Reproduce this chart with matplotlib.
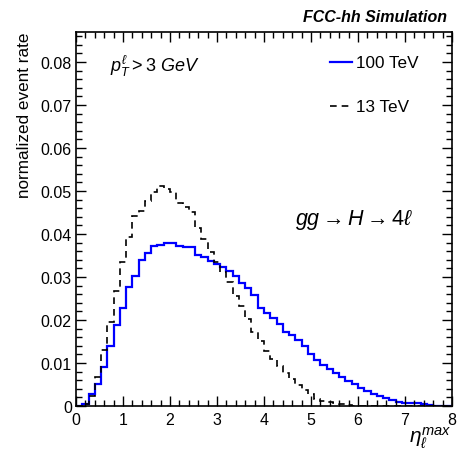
import numpy as np
import matplotlib
matplotlib.use("Agg")
import matplotlib.pyplot as plt
from matplotlib.ticker import MultipleLocator

plt.rcParams['font.family'] = ['Liberation Sans', 'DejaVu Sans']
plt.rcParams['mathtext.fontset'] = 'custom'
plt.rcParams['mathtext.rm'] = 'Liberation Sans'
plt.rcParams['mathtext.it'] = 'Liberation Sans:italic'
plt.rcParams['mathtext.bf'] = 'Liberation Sans:bold'

# ---- data (60 bins from 0 to 8) ----
eta_min, eta_max, n_bins = 0.0, 8.0, 60
rate_100TeV = [
    0.0, 0.0005, 0.0028, 0.0051, 0.0090, 0.0139, 0.0188, 0.0228, 0.0277, 0.0303,
    0.0340, 0.0356, 0.0373, 0.0374, 0.0379, 0.0379, 0.0373, 0.0370, 0.0370, 0.0351,
    0.0346, 0.0338, 0.0330, 0.0323, 0.0315, 0.0303, 0.0286, 0.0275, 0.0258, 0.0228,
    0.0216, 0.0204, 0.0190, 0.0172, 0.0165, 0.0154, 0.0140, 0.0120, 0.0107, 0.0095,
    0.0087, 0.0077, 0.0068, 0.0059, 0.0051, 0.0042, 0.0035, 0.0028, 0.0023, 0.0019,
    0.0013, 0.0010, 0.0008, 0.0007, 0.0006, 0.0004, 0.0003, 0.0, 0.0, 0.0,
]
rate_13TeV = [
    0.0, 0.0005, 0.0024, 0.0067, 0.0130, 0.0196, 0.0267, 0.0335, 0.0393, 0.0443,
    0.0454, 0.0478, 0.0498, 0.0511, 0.0505, 0.0497, 0.0472, 0.0462, 0.0452, 0.0414,
    0.0388, 0.0359, 0.0335, 0.0312, 0.0288, 0.0257, 0.0233, 0.0202, 0.0172, 0.0152,
    0.0129, 0.0110, 0.0092, 0.0076, 0.0062, 0.0048, 0.0038, 0.0028, 0.0016, 0.0012,
    0.0010, 0.0007, 0.0005, 0.0003, 0.0001, 0.0, 0.0, 0.0, 0.0, 0.0,
    0.0, 0.0, 0.0, 0.0, 0.0, 0.0, 0.0, 0.0, 0.0, 0.0,
]
legend_labels = ["100 TeV", "13 TeV"]
x_ticks = [0, 1, 2, 3, 4, 5, 6, 7, 8]
y_ticks = [0, 0.01, 0.02, 0.03, 0.04, 0.05, 0.06, 0.07, 0.08]
y_tick_labels = ["0", "0.01", "0.02", "0.03", "0.04", "0.05", "0.06", "0.07", "0.08"]

edges = np.linspace(eta_min, eta_max, n_bins + 1)

fig = plt.figure(figsize=(4.57, 4.52), dpi=100)
ax = fig.add_axes([76/457, 1 - 407/452, (452-76)/457, (407-33)/452])

ax.stairs(rate_100TeV, edges, baseline=None, color='#0000ff', lw=1.6)
ax.stairs(rate_13TeV, edges, baseline=None, color='black', lw=1.2,
          linestyle=(0, (4, 3)))

ax.set_xlim(0, 8)
ax.set_ylim(0, 0.087)
ax.set_xticks(x_ticks)
ax.set_xticklabels([str(t) for t in x_ticks])
ax.set_yticks(y_ticks)
ax.set_yticklabels(y_tick_labels)
ax.xaxis.set_minor_locator(MultipleLocator(0.2))
ax.yaxis.set_minor_locator(MultipleLocator(0.002))
ax.tick_params(which='both', direction='in', top=True, right=True, width=1.0,
               labelsize=11.5, colors='black')
ax.tick_params(which='major', length=7.5)
ax.tick_params(which='minor', length=4)
ax.tick_params(axis='x', pad=4)
ax.tick_params(axis='y', pad=3)
for s in ax.spines.values():
    s.set_linewidth(1.2)

ax.set_ylabel("normalized event rate", fontsize=12.3, loc='top', labelpad=6)
fig.text(452/457, 1 - 438/452, r"$\eta_{\ell}^{max}$", fontsize=15, ha='right', va='center')

fig.text(447/457, 1 - 17/452, "FCC-hh Simulation", fontsize=11.5,
         fontweight='bold', fontstyle='italic', ha='right', va='center')

# legend (manual, ROOT-style)
ax.plot([0.0, 0.0], [0, 0], alpha=0)
lx0, lx1 = (330-76)/376, (352-76)/376
ax.plot([lx0, lx1], [(407-63)/374]*2, transform=ax.transAxes, color='#0000ff', lw=1.6)
ax.text((356-76)/376, (407-63)/374, legend_labels[0], transform=ax.transAxes,
        fontsize=12.3, va='center', ha='left')
ax.plot([lx0, lx1], [(407-107)/374]*2, transform=ax.transAxes, color='black', lw=1.2,
        linestyle=(0, (4, 3)))
ax.text((356-76)/376, (407-107)/374, legend_labels[1], transform=ax.transAxes,
        fontsize=12.3, va='center', ha='left')

ax.text((110-76)/376, (407-66)/374, r"$p_{T}^{\ell} > 3\ GeV$", transform=ax.transAxes,
        fontsize=13, va='center', ha='left')
ax.text((295-76)/376, (407-220)/374, r"$gg \rightarrow H \rightarrow 4\ell$",
        transform=ax.transAxes, fontsize=15.5, va='center', ha='left')

fig.savefig("out.png", dpi=100)
